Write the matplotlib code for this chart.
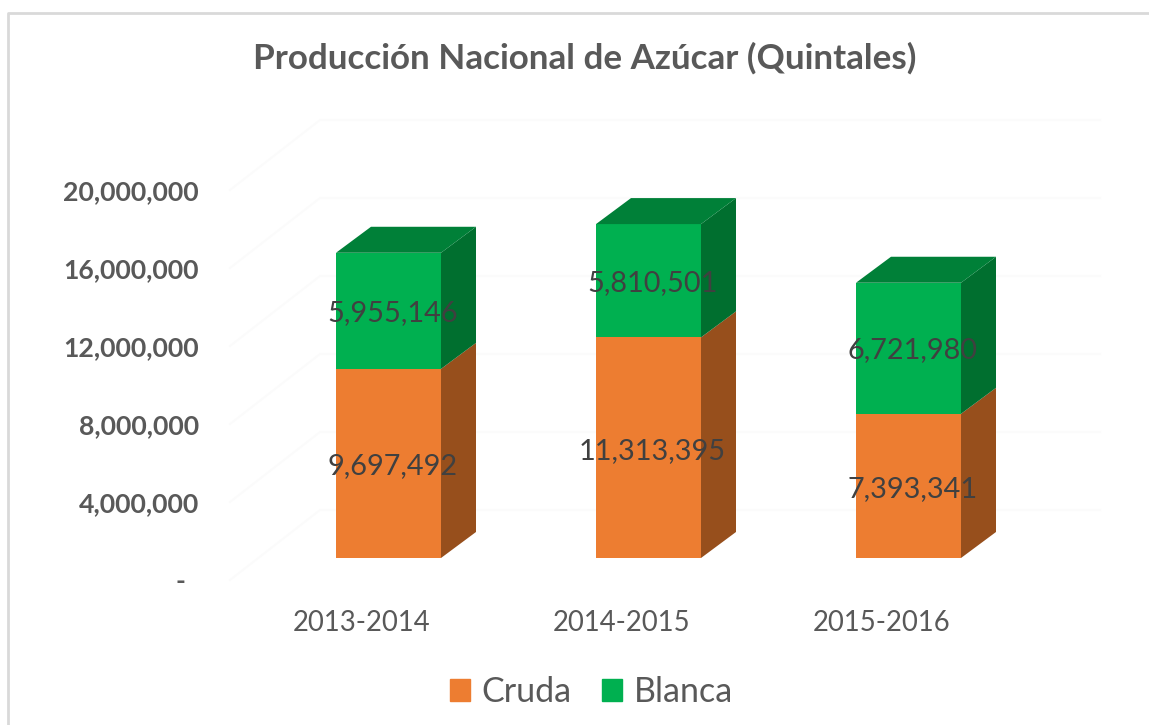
import matplotlib
matplotlib.use("Agg")
import matplotlib.pyplot as plt
from matplotlib.lines import Line2D
from matplotlib.patches import Patch
from matplotlib.transforms import Affine2D

plt.rcParams['font.family'] = ['Lato', 'DejaVu Sans']

W, H = 1149, 725

seasons = ["2013-2014", "2014-2015", "2015-2016"]
cruda = [9697492, 11313395, 7393341]
blanca = [5955146, 5810501, 6721980]
y_ticks = [0, 4000000, 8000000, 12000000, 16000000, 20000000]

TEXT = "#595959"
ORANGE, ORANGE_SIDE = "#ed7d31", "#974f1c"
GREEN, GREEN_SIDE, GREEN_TOP = "#00b050", "#006f2f", "#008038"
GRID = "#fbfbfb"

fig = plt.figure(figsize=(W / 100, H / 100), dpi=100, facecolor="white")

# axes placed in pixels: y=0 sits at 580 and 20M at 190, bars are 260 px apart
left, right, top, bottom = 230, 1100, 190, 580
ax = fig.add_axes([left / W, 1 - bottom / H, (right - left) / W, (bottom - top) / H])
ax.set_xlim((left - 388.5) / 260, (right - 388.5) / 260)
ax.set_ylim(0, 20000000)
for s in ax.spines.values():
    s.set_visible(False)
ax.patch.set_alpha(0)

px_y = 20000000 / (bottom - top)  # value per pixel
bar_w = 105 / 260
depth_x = 35 / 260
depth_y = 26 * px_y
lift = Affine2D().translate(0, 22)  # the boxes stand above the axis labels
bar_tr = ax.transData + lift

# faint walls of the 3d box
wall_x = 90 / 260
wall_y = 70 * px_y
x0, x1 = ax.get_xlim()
for v in y_ticks:
    ax.plot([x0, x0 + wall_x, x1], [v, v + wall_y, v + wall_y], color=GRID, lw=1.5, clip_on=False, zorder=0)

for i in range(len(seasons)):
    xl = i - bar_w / 2
    xr = i + bar_w / 2
    c = cruda[i]
    t = cruda[i] + blanca[i]
    ax.bar(i, c, bar_w, color=ORANGE, transform=bar_tr, clip_on=False, zorder=3)
    ax.bar(i, blanca[i], bar_w, bottom=c, color=GREEN, transform=bar_tr, clip_on=False, zorder=3)
    ax.fill([xr, xr + depth_x, xr + depth_x, xr], [0, depth_y, c + depth_y, c],
            color=ORANGE_SIDE, lw=0, transform=bar_tr, clip_on=False, zorder=3)
    ax.fill([xr, xr + depth_x, xr + depth_x, xr], [c, c + depth_y, t + depth_y, t],
            color=GREEN_SIDE, lw=0, transform=bar_tr, clip_on=False, zorder=3)
    ax.fill([xl, xl + depth_x, xr + depth_x, xr], [t, t + depth_y, t + depth_y, t],
            color=GREEN_TOP, lw=0, transform=bar_tr, clip_on=False, zorder=3)
    ax.text(i + 4 / 260, c / 2 - 3 * px_y, f"{c:,}", ha="center", va="center", fontsize=20.8,
            color="#404040", transform=bar_tr, zorder=5)
    ax.text(i + 4 / 260, c + blanca[i] / 2 - 2 * px_y, f"{blanca[i]:,}", ha="center", va="center", fontsize=20.8,
            color="#404040", transform=bar_tr, zorder=5)

ax.set_xticks(range(len(seasons)), seasons)
ax.set_yticks(y_ticks, [f"{v:,}" if v else "-  " for v in y_ticks])
ax.tick_params(axis="both", length=0)
ax.tick_params(axis="x", labelsize=19.8, labelcolor=TEXT, pad=21.5)
ax.tick_params(axis="y", labelsize=19.2, labelcolor=TEXT, pad=22.5)
for lab in ax.get_yticklabels():
    lab.set_fontweight("bold")
# category labels sit left of the box centres in the 3d view
for lab in ax.get_xticklabels():
    lab.set_transform(lab.get_transform() + Affine2D().translate(-27, 0))

fig.text(584.5 / W, 1 - 58 / H, "Producción Nacional de Azúcar (Quintales)", ha="center", va="center",
         fontsize=25.2, fontweight="bold", color=TEXT)

fig.legend(handles=[Patch(color=ORANGE, label="Cruda"), Patch(color=GREEN, label="Blanca")],
           loc="center", bbox_to_anchor=(591.5 / W, 1 - 692 / H), ncol=2, frameon=False, fontsize=24.5,
           labelcolor=TEXT, handlelength=0.59, handleheight=0.59, handletextpad=0.35, columnspacing=0.88)

# chart frame, only top and left fall inside the crop
fig.add_artist(Line2D([8 / W, 8 / W, 1], [0, 1 - 13 / H, 1 - 13 / H], color="#d9d9d9", lw=2))

fig.savefig("out.png", dpi=100)
